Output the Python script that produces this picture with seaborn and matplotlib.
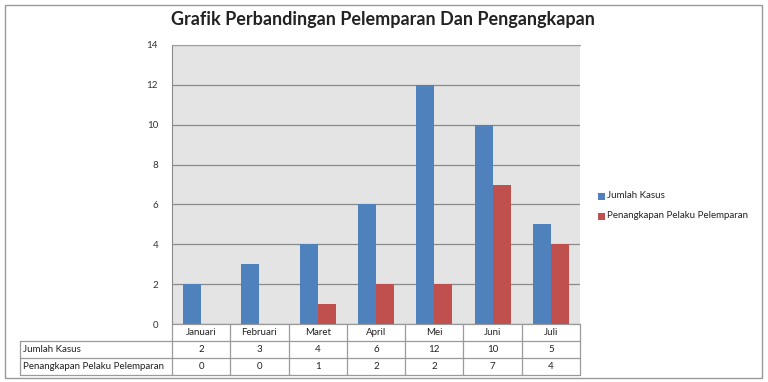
import pandas as pd
import numpy as np
import matplotlib.pyplot as plt
import seaborn as sns
from matplotlib.patches import Rectangle

# Data
bulan = ['Januari', 'Februari', 'Maret', 'April', 'Mei', 'Juni', 'Juli']
jumlah_kasus = [2, 3, 4, 6, 12, 10, 5]
penangkapan = [0, 0, 1, 2, 2, 7, 4]
seri = ['Jumlah Kasus', 'Penangkapan Pelaku Pelemparan']
warna = ['#4f81bd', '#c0504d']

df = pd.DataFrame({
    'Bulan': bulan * 2,
    'Seri': [seri[0]] * len(bulan) + [seri[1]] * len(bulan),
    'Nilai': jumlah_kasus + penangkapan,
})

sns.set_style('white')
plt.rcParams['font.family'] = ['Lato', 'DejaVu Sans']

fig = plt.figure(figsize=(7.68, 3.82), dpi=100)
ax = fig.add_axes([172 / 768, (382 - 324) / 382, 408 / 768, 279 / 382])
ax.set_facecolor('#e4e4e4')

sns.barplot(data=df, x='Bulan', y='Nilai', hue='Seri', palette=warna,
            width=0.62, gap=0, saturation=1, ax=ax, legend=False, zorder=3,
            linewidth=0)

ax.set_ylim(0, 14)
ax.set_yticks(range(0, 15, 2))
ax.set_xlim(-0.5, 6.5)
ax.set_xticks([])
ax.set_xlabel('')
ax.set_ylabel('')
ax.grid(axis='y', color='#8a8a8a', linewidth=0.9, zorder=0)
ax.tick_params(axis='y', labelsize=7, length=0, pad=10, colors='#333333')
ax.spines['bottom'].set_visible(False)
ax.spines['right'].set_visible(False)
ax.spines['left'].set_color('#8a8a8a')
ax.spines['top'].set_color('#a0a0a0')

# Data table below the plot
row_h = 17 / 279
garis = dict(color='#9a9a9a', linewidth=0.9, clip_on=False)
trans = ax.get_xaxis_transform()
left_tbl = (20 - 172) / 408 * 7 - 0.5  # left edge of row labels in data units
ax.plot([-0.5, 6.5], [0, 0], transform=trans, **garis)
for i in range(1, 4):
    ax.plot([left_tbl, 6.5], [-i * row_h] * 2, transform=trans, **garis)
for k in range(8):
    ax.plot([k - 0.5] * 2, [0, -3 * row_h], transform=trans, **garis)
ax.plot([left_tbl] * 2, [-row_h, -3 * row_h], transform=trans, **garis)

for k, b in enumerate(bulan):
    ax.text(k, -0.5 * row_h, b, transform=trans, ha='center', va='center', fontsize=7, color='#222222')
    ax.text(k, -1.5 * row_h, str(jumlah_kasus[k]), transform=trans, ha='center', va='center', fontsize=7, color='#222222')
    ax.text(k, -2.5 * row_h, str(penangkapan[k]), transform=trans, ha='center', va='center', fontsize=7, color='#222222')
ax.text(left_tbl + 0.05, -1.5 * row_h, seri[0], transform=trans, ha='left', va='center', fontsize=7, color='#222222')
ax.text(left_tbl + 0.05, -2.5 * row_h, seri[1], transform=trans, ha='left', va='center', fontsize=7, color='#222222')

# Legend
for j, (nama, c) in enumerate(zip(seri, warna)):
    y = (382 - (196 + j * 20)) / 382
    fig.patches.append(Rectangle((598 / 768, y - 3.5 / 382), 7 / 768, 7 / 382, transform=fig.transFigure,
                                 facecolor=c, edgecolor='none'))
    fig.text(607 / 768, y, nama, fontsize=7, va='center', ha='left', color='#222222')

# Title
fig.text(383 / 768, (382 - 20) / 382, 'Grafik Perbandingan Pelemparan Dan Pengangkapan',
         ha='center', va='center', fontsize=13, fontweight='bold', color='#222222')

# Outer border
fig.patches.append(Rectangle((5 / 768, 4 / 382), 757 / 768, 373 / 382, transform=fig.transFigure,
                             facecolor='none', edgecolor='#9a9a9a', linewidth=1))

fig.savefig('out.png', dpi=100)
